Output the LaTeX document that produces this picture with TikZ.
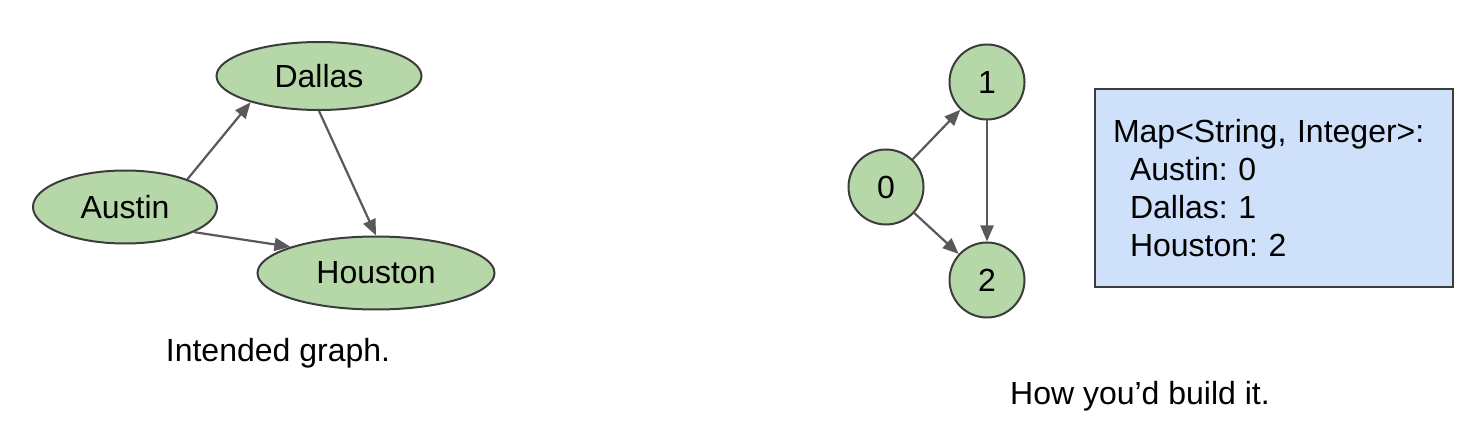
\documentclass[tikz,border=0pt]{standalone}
\usepackage{fontspec}
\setmainfont{Liberation Sans}
\usepackage{tikz}
\usetikzlibrary{shapes.geometric,arrows.meta}
\definecolor{citygreen}{HTML}{B6D7A8}
\definecolor{mapblue}{HTML}{CFE0FA}
\definecolor{edgegray}{HTML}{595959}
\definecolor{linegray}{HTML}{3C3C3C}
\frenchspacing

\begin{document}
\begin{tikzpicture}[x=0.5pt,y=-0.5pt,
	city/.style={ellipse,draw=linegray,fill=citygreen,line width=1pt,inner sep=0pt,font=\fontsize{16}{19}\selectfont},
	vertex/.style={circle,draw=linegray,fill=citygreen,line width=1pt,minimum size=37.5pt,inner sep=0pt,font=\fontsize{16}{19}\selectfont},
	edge/.style={draw=edgegray,line width=1.1pt,-{Triangle[length=8pt,width=6.5pt]}},
	mapbox/.style={rectangle,draw=linegray,fill=mapblue,line width=1pt,align=left,text width=161pt,inner xsep=9pt,minimum height=99pt,font=\fontsize{16}{19}\selectfont},
	caption/.style={font=\fontsize{16}{19}\selectfont}]
	\useasboundingbox (0,0) rectangle (1476,422);
	% The intended graph, with the city names.
	\node(dallas) [city,minimum width=102.5pt,minimum height=34pt] at (319, 76) {Dallas};
	\node(austin) [city,minimum width=92pt,minimum height=36.5pt] at (125, 207) {Austin};
	\node(houston) [city,minimum width=118.5pt,minimum height=36.5pt] at (376, 273) {Houston};
	\draw[edge] (austin.24) -- (dallas.-159);
	\draw[edge] (dallas.south) -- (houston.north);
	\draw[edge] (austin.-20) -- (houston.163);
	\node (intended) [caption] at (278, 353) {Intended graph.};
	% The same graph built with numbers.
	\node(v0) [vertex] at (886, 187) {0};
	\node(v1) [vertex] at (987, 82) {1};
	\node(v2) [vertex] at (987, 280) {2};
	\draw[edge] (v0) -- (v1);
	\draw[edge] (v1) -- (v2);
	\draw[edge] (v0) -- (v2);
	\node (map) [mapbox] at (1274, 188) {Map<String, Integer>:\\
		\hspace*{8.5pt}Austin: 0\\
		\hspace*{8.5pt}Dallas: 1\\
		\hspace*{8.5pt}Houston: 2};
	\node (build) [caption] at (1140, 396) {How you’d build it.};
\end{tikzpicture}
\end{document}
